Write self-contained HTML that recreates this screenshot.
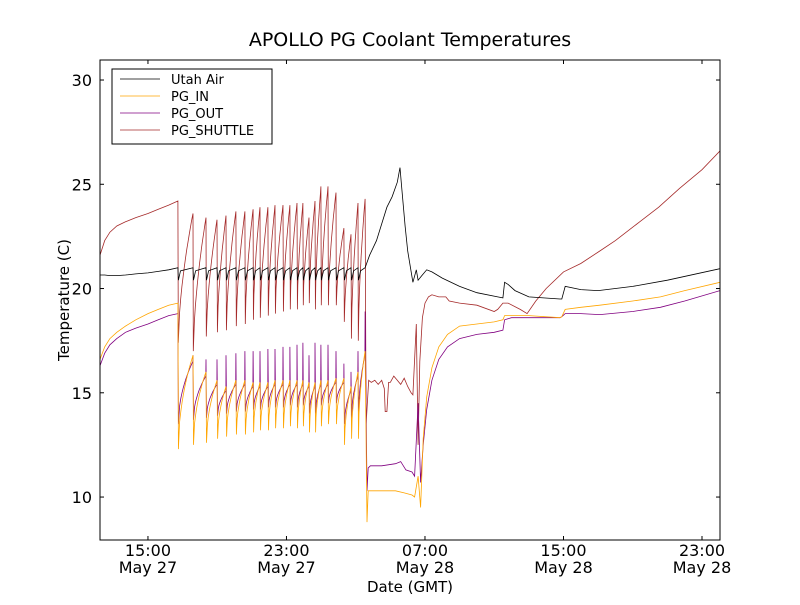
<!DOCTYPE html>
<html><head><meta charset="utf-8"><style>
body{margin:0;background:#fff;}
svg text{font-family:"DejaVu Sans","Liberation Sans",sans-serif;}
</style></head><body>
<svg id="chart" width="800" height="600" xmlns="http://www.w3.org/2000/svg">
<rect width="800" height="600" fill="#fff"/>
<text x="410" y="46" text-anchor="middle" font-size="19">APOLLO PG Coolant Temperatures</text>
<g id="plot"></g>
<text x="410" y="592" text-anchor="middle" font-size="15">Date (GMT)</text>
<text transform="translate(69,300) rotate(-90)" text-anchor="middle" font-size="15">Temperature (C)</text>
</svg>
<script>
// Y axis / X axis ticks
const yTicks=[10,15,20,25,30];
const xTickHours=[15,23,31,39,47];
const xTickTimes=["15:00","23:00","07:00","15:00","23:00"];
const xTickDates=["May 27","May 27","May 28","May 28","May 28"];
// pre-oscillation segment (hours since May 27 00:00)
const preT=[12.23,12.5,12.8,13.2,13.7,14.3,15.0,15.6,16.2,16.73];
const preShuttle=[21.6,22.3,22.7,23.0,23.2,23.4,23.6,23.8,24.0,24.2];
const preIn=[16.6,17.2,17.6,17.9,18.2,18.5,18.8,19.0,19.2,19.3];
const preOut=[16.3,16.9,17.3,17.6,17.9,18.1,18.3,18.5,18.7,18.8];
const preAir=[20.65,20.65,20.62,20.62,20.65,20.7,20.75,20.82,20.9,21.0];
// oscillation cycles
const cycleT=[16.73,17.60,18.35,18.99,19.51,20.08,20.60,21.07,21.47,21.93,22.34,22.80,23.20,23.61,23.95,24.30,24.65,24.99,25.40,25.86,26.32,26.73,27.13,27.54];
const shuttlePeak=[24.2,23.6,23.4,23.3,23.5,23.7,23.7,23.8,23.9,23.9,24.0,24.0,24.0,24.1,24.1,23.4,24.2,24.9,24.9,24.6,22.9,22.6,24.1,24.3];
const shuttleTrough=[17.4,17.0,17.7,17.9,18.0,18.2,18.3,18.5,18.6,18.7,18.8,18.9,19.0,19.0,19.2,19.3,19.0,19.2,19.2,19.2,18.4,17.6,17.5];
const outSpike=[17.3,16.8,16.6,16.6,16.8,16.9,17.0,17.0,17.0,17.1,17.1,17.2,17.2,17.3,17.4,16.8,17.4,17.3,17.3,17.0,16.4,16.0,17.0];
const inTrough=[12.3,12.5,12.6,12.8,12.9,13.0,13.0,13.1,13.2,13.2,13.3,13.3,13.4,13.3,13.4,13.1,13.1,13.4,13.5,13.5,12.5,12.8,12.8];
const outTrough=[13.5,13.7,13.8,13.9,14.0,14.1,14.1,14.2,14.2,14.3,14.3,14.3,14.4,14.3,14.4,14.0,14.0,14.4,14.5,14.5,13.5,13.8,13.8];
const inEnd=[16.8,16.0,15.6,15.3,15.6,15.6,15.5,15.5,15.5,15.6,15.6,15.6,15.6,15.6,15.5,15.5,15.6,15.6,15.7,15.7,15.3,16.0,17.0];
const outEnd=[16.5,15.8,15.4,15.1,15.4,15.4,15.3,15.3,15.3,15.4,15.4,15.4,15.4,15.4,15.3,15.3,15.4,15.4,15.5,15.5,15.1,15.8,16.8];
const airHigh=21.0, airDip=20.4;
// post segment
const postShuttleT=[27.54,27.60,27.75,27.9,28.1,28.3,28.5,28.65,28.7,28.8,28.9,29.0,29.2,29.4,29.6,29.8,30.0,30.2,30.3,30.5,30.6,30.7,30.85,31.0,31.2,31.4,31.8,32.2,32.4,33,34,35.0,35.2,35.5,35.8,36.5,36.9,37.4,38.0,39.0,40,41.1,42,43.4,44.5,45.7,47,48.04];
const postShuttle=[24.3,13.5,15.6,15.5,15.6,15.4,15.6,15.2,14.1,14.1,15.5,15.5,15.8,15.6,15.4,15.7,15.3,15.0,14.9,18.3,12.5,16.5,18.6,19.3,19.6,19.7,19.6,19.6,19.4,19.3,19.2,18.9,19.0,19.3,19.3,19.0,18.8,19.4,20.0,20.8,21.2,21.8,22.3,23.2,23.9,24.8,25.7,26.6];
const postInT=[27.54,27.65,27.72,27.85,28.5,29.3,29.8,30.25,30.4,30.6,30.75,30.9,31.1,31.4,31.8,32.3,33.0,34.0,35.0,35.5,35.6,36.0,37,38.8,38.9,39.1,40,41.1,43,44.6,46,48.04];
const postIn=[17.0,8.8,10.3,10.3,10.3,10.3,10.2,10.1,10.0,11.0,9.5,12.8,14.8,16.2,17.2,17.8,18.2,18.3,18.4,18.5,18.7,18.7,18.7,18.6,18.65,19.0,19.1,19.2,19.4,19.6,19.9,20.3];
const postOutT=[27.54,27.65,27.72,27.85,28.5,29.3,29.6,29.9,30.25,30.4,30.6,30.75,30.9,31.1,31.4,31.8,32.3,33,34,35.0,35.5,35.6,36,37,38.8,38.9,39.1,40,41.1,43,44.6,46,48.04];
const postOut=[18.9,10.3,11.4,11.5,11.5,11.6,11.7,11.3,11.2,11.0,14.5,10.7,12.5,14.2,15.6,16.6,17.2,17.6,17.8,17.9,18.0,18.5,18.6,18.6,18.6,18.65,18.8,18.8,18.75,18.9,19.1,19.4,19.9];
const postAirT=[27.54,27.8,28.2,28.5,28.8,29.1,29.4,29.56,29.65,29.85,30.0,30.3,30.5,30.6,30.8,31.1,31.4,32,33,34,35.2,35.5,35.6,35.8,36.2,37,38.8,38.9,39.1,40,41,43,45,48.04];
const postAir=[21.0,21.6,22.3,23.1,23.9,24.4,25.1,25.8,24.9,23.0,21.8,20.3,20.9,20.4,20.6,20.9,20.8,20.5,20.1,19.8,19.6,19.55,20.3,20.2,19.9,19.6,19.5,19.5,20.1,19.95,19.9,20.1,20.4,20.95];

const X0=100,X1=720,Y0=60,Y1=540,H0=12.23,H1=48.04,V0=7.94,V1=30.96;
const sx=h=>X0+(h-H0)/(H1-H0)*(X1-X0);
const sy=v=>Y1-(v-V0)/(V1-V0)*(Y1-Y0);
const NS="http://www.w3.org/2000/svg";
const plot=document.getElementById('plot');
function mk(tag,attrs,parent){const e=document.createElementNS(NS,tag);for(const k in attrs)e.setAttribute(k,attrs[k]);(parent||plot).appendChild(e);return e;}

function curve(pts,t0,v0,t1,v1,p){const n=12;for(let k=1;k<=n;k++){const f=k/n;pts.push([t0+(t1-t0)*f,v0+(v1-v0)*Math.pow(f,p)]);}}
const sh=[],pi=[],po=[],air=[];
preT.forEach((t,i)=>{sh.push([t,preShuttle[i]]);pi.push([t,preIn[i]]);po.push([t,preOut[i]]);air.push([t,preAir[i]]);});
for(let i=0;i<cycleT.length-1;i++){
  const t0=cycleT[i],t1=cycleT[i+1];
  sh.push([t0+0.02,shuttleTrough[i]]);curve(sh,t0+0.02,shuttleTrough[i],t1,shuttlePeak[i+1],0.6);
  pi.push([t0+0.03,inTrough[i]]);curve(pi,t0+0.03,inTrough[i],t1,inEnd[i],0.5);
  if(i>0){po.push([t0,outSpike[i]]);}
  po.push([t0+0.03,outTrough[i]]);curve(po,t0+0.03,outTrough[i],t1-0.01,outEnd[i],0.5);
  air.push([t0+0.03,airDip]);air.push([t0+0.15,airHigh-0.15]);air.push([t1,airHigh]);
}
postShuttleT.forEach((t,i)=>sh.push([t,postShuttle[i]]));
postInT.forEach((t,i)=>pi.push([t,postIn[i]]));
postOutT.forEach((t,i)=>po.push([t,postOut[i]]));
postAirT.forEach((t,i)=>air.push([t,postAir[i]]));

const clip=mk('clipPath',{id:'pc'});mk('rect',{x:X0,y:Y0,width:X1-X0,height:Y1-Y0},clip);
function line(pts,color,name){const p=mk('polyline',{points:pts.map(q=>sx(q[0]).toFixed(1)+','+sy(q[1]).toFixed(1)).join(' '),fill:'none',stroke:color,'stroke-width':0.8,'clip-path':'url(#pc)'});

}
line(sh,'#a52a2a','series-pg-shuttle');
line(po,'#800080','series-pg-out');
line(pi,'#ffa500','series-pg-in');
line(air,'#000000','series-utah-air');

const frame=mk('rect',{x:X0,y:Y0,width:X1-X0,height:Y1-Y0,fill:'none',stroke:'#000','stroke-width':1});


yTicks.forEach(v=>{const y=sy(v);
  mk('line',{x1:X0,x2:X0+4,y1:y,y2:y,stroke:'#000'});mk('line',{x1:X1-4,x2:X1,y1:y,y2:y,stroke:'#000'});
  const t=mk('text',{x:X0-8,y:y+6,'text-anchor':'end','font-size':16});t.textContent=v;
  
  });
xTickHours.forEach((h,i)=>{const x=sx(h);
  mk('line',{x1:x,x2:x,y1:Y1,y2:Y1-4,stroke:'#000'});mk('line',{x1:x,x2:x,y1:Y0,y2:Y0+4,stroke:'#000'});
  const t=mk('text',{x:x,y:556,'text-anchor':'middle','font-size':16});t.textContent=xTickTimes[i];
  
  
  const d=mk('text',{x:x,y:573,'text-anchor':'middle','font-size':16});d.textContent=xTickDates[i];
  
  });

const legendNames=["Utah Air","PG_IN","PG_OUT","PG_SHUTTLE"];
const legendColors=['#000000','#ffa500','#800080','#a52a2a'];
const lg=mk('g',{});


mk('rect',{x:112,y:69,width:160,height:75,fill:'#fff',stroke:'#000','stroke-width':1},lg);
legendNames.forEach((n,i)=>{const y=79+i*17;
  mk('line',{x1:120,x2:160,y1:y,y2:y,stroke:legendColors[i],'stroke-width':0.8},lg);
  const t=mk('text',{x:171,y:y+5,'font-size':13},lg);t.textContent=n;
  
  });
</script>
</body></html>
